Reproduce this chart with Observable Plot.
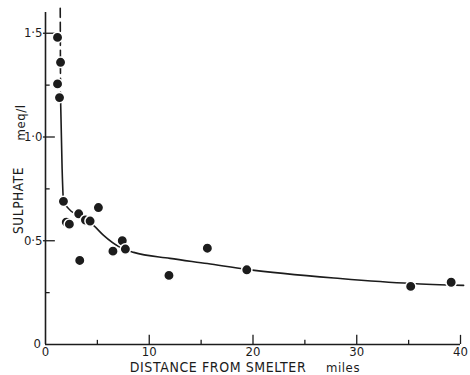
<!DOCTYPE html>
<html>
<head>
<meta charset="utf-8">
<script src="https://cdn.jsdelivr.net/npm/d3@7"></script>
<script src="https://cdn.jsdelivr.net/npm/@observablehq/plot@0.6"></script>
<style>
  html, body { margin: 0; padding: 0; background: #fff; }
  #chart svg { display: block; }
  #chart svg .spaced text { letter-spacing: 0.6px; }
</style>
</head>
<body>
<div id="chart"></div>
<script>
// Observed sulphate samples (distance in miles, sulphate in meq/l)
const sampleDistance = [1.16, 1.45, 1.16, 1.35, 1.73, 2.0, 2.3, 3.2, 3.3, 3.85, 4.3, 5.1, 6.5, 7.4, 7.7, 11.9, 15.6, 19.4, 35.2, 39.1];
const sampleSulphate = [1.48, 1.36, 1.256, 1.19, 0.69, 0.59, 0.58, 0.63, 0.405, 0.60, 0.595, 0.66, 0.45, 0.50, 0.46, 0.333, 0.464, 0.36, 0.28, 0.30];

// Fitted curve (dashed upper part, solid remainder)
const curveDashX = [1.42, 1.45];
const curveDashY = [1.62, 1.19];
const curveX = [1.45, 1.6, 1.73, 2.2, 3.18, 4.63, 5.6, 7.2, 8.5, 12.0, 15.6, 19.4, 28.4, 35.2, 40.3];
const curveY = [1.19, 0.85, 0.695, 0.656, 0.622, 0.574, 0.526, 0.468, 0.444, 0.415, 0.39, 0.362, 0.318, 0.294, 0.285];

// Tick values
const xMajorTicks = [10, 20, 30, 40];
const xMinorTicks = [5, 15, 25, 35];
const xTickLabels = [0, 10, 20, 30, 40];
const yMajorTicks = [0.5, 1.0, 1.5];
const yMinorTicks = [0.25, 0.75, 1.25];

const points = sampleDistance.map((d, i) => ({x: d, y: sampleSulphate[i]}));
const curve = curveX.map((d, i) => ({x: d, y: curveY[i]}));
const curveDash = curveDashX.map((d, i) => ({x: d, y: curveDashY[i]}));

const ink = "#1c1c1c";
const font = "'DejaVu Sans Condensed', 'DejaVu Sans', sans-serif";

const chart = Plot.plot({
  width: 470,
  height: 375,
  marginLeft: 45,
  marginRight: 10,
  marginTop: 12,
  marginBottom: 31,
  style: {background: "#fff", color: ink, fontFamily: font},
  x: {domain: [0, 40], axis: null},
  y: {domain: [0, 1.6], axis: null},
  marks: [
    // axis lines
    Plot.ruleY([0], {stroke: ink, strokeWidth: 1.6}),
    Plot.ruleX([0], {stroke: ink, strokeWidth: 1.6}),
    // x ticks (pointing up)
    Plot.ruleX(xMajorTicks, {y1: 0, y2: 0.044, stroke: ink, strokeWidth: 1.3}),
    Plot.ruleX(xMinorTicks, {y1: 0, y2: 0.02, stroke: ink, strokeWidth: 1.3}),
    // y ticks (pointing right)
    Plot.ruleY(yMajorTicks, {x1: -0.2, x2: 0.95, stroke: ink, strokeWidth: 1.3}),
    Plot.ruleY(yMinorTicks, {x1: 0, x2: 0.45, stroke: ink, strokeWidth: 1.3}),
    // tick labels
    Plot.axisX(xTickLabels, {anchor: "bottom", tickSize: 0, tickPadding: 2, label: null, fontSize: 13, fontFamily: font, fill: ink}),
    Plot.axisY(yMajorTicks, {anchor: "left", tickSize: 0, tickPadding: 3, label: null, fontSize: 13, fontFamily: font, fill: ink,
      tickFormat: d => d.toFixed(1).replace(".", "·")}),
    Plot.text(["0"], {frameAnchor: "bottom-left", dx: -12, dy: -1, textAnchor: "start", lineAnchor: "middle", fontSize: 13, fontFamily: font, fill: ink}),
    // axis titles
    Plot.text(["SULPHATE"], {frameAnchor: "left", dx: -27, dy: 22, rotate: -90, textAnchor: "middle", lineAnchor: "middle", fontSize: 13.5, fontFamily: font, fill: ink, className: "spaced"}),
    Plot.text(["meq/l"], {frameAnchor: "left", dx: -25, dy: -56, rotate: -90, textAnchor: "middle", lineAnchor: "middle", fontSize: 13, fontFamily: font, fill: ink, className: "spaced"}),
    Plot.text(["DISTANCE FROM SMELTER"], {frameAnchor: "bottom", dx: -35, dy: 23, textAnchor: "middle", lineAnchor: "middle", fontSize: 14, fontFamily: font, fill: ink, className: "spaced"}),
    Plot.text(["miles"], {frameAnchor: "bottom", dx: 90, dy: 23, textAnchor: "middle", lineAnchor: "middle", fontSize: 13, fontFamily: font, fill: ink, className: "spaced"}),
    // fitted curve
    Plot.line(curveDash, {x: "x", y: "y", stroke: ink, strokeWidth: 1.6, strokeDasharray: "9,5"}),
    Plot.line(curve, {x: "x", y: "y", stroke: ink, strokeWidth: 1.6, curve: "monotone-x"}),
    // sample points
    Plot.dot(points, {x: "x", y: "y", r: 5.2, fill: ink, stroke: "#fff", strokeWidth: 1.5})
  ]
});

document.getElementById("chart").appendChild(chart);
</script>
</body>
</html>
